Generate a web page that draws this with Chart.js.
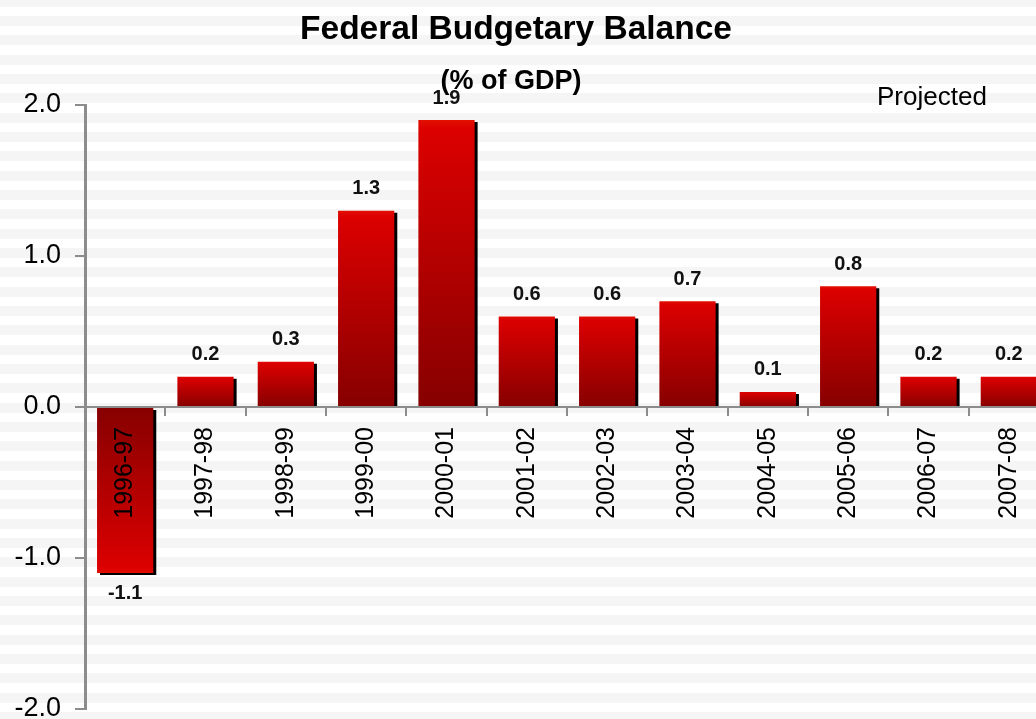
<!DOCTYPE html>
<html>
<head>
<meta charset="utf-8">
<title>Federal Budgetary Balance</title>
<script src="https://cdn.jsdelivr.net/npm/chart.js@4.4.1/dist/chart.umd.min.js"></script>
<style>
  html, body { margin: 0; padding: 0; width: 1036px; height: 719px; overflow: hidden; }
  body {
    background: repeating-linear-gradient(to bottom,
      #f5f5f5 0px, #f5f5f5 6.67px,
      #ffffff 6.67px, #ffffff 16px,
      #f5f5f5 16px, #f5f5f5 19.33px);
  }
  canvas { display: block; }
</style>
</head>
<body>
<canvas id="balance-chart" width="1060" height="719"></canvas>
<script>
// Data
const years = ["1996-97", "1997-98", "1998-99", "1999-00", "2000-01", "2001-02",
               "2002-03", "2003-04", "2004-05", "2005-06", "2006-07", "2007-08"];
const balance = [-1.1, 0.2, 0.3, 1.3, 1.9, 0.6, 0.6, 0.7, 0.1, 0.8, 0.2, 0.2];
const yTicks = [-2, -1, 0, 1, 2];
const titleText = "Federal Budgetary Balance";
const subtitleText = "(% of GDP)";
const noteText = "Projected";

// no narrow face installed, so regular Liberation Sans at a smaller size
const axisFont = "'Liberation Sans', Arial, sans-serif";
const axisGray = "#8c8c8c";

// Bar gradient: dark at the zero line, bright at the tip
function barFill(c) {
  const chart = c.chart;
  if (!chart.chartArea) return "#c00000";
  const y = chart.scales.y;
  const g = chart.ctx.createLinearGradient(0, y.getPixelForValue(0), 0, y.getPixelForValue(c.raw));
  g.addColorStop(0, "#860000");
  g.addColorStop(0.97, "#dc0000");
  g.addColorStop(1, "#e21000");
  return g;
}

// Hard black drop shadow behind the bars
const barShadow = {
  id: "barShadow",
  beforeDatasetsDraw(chart) {
    const ctx = chart.ctx;
    ctx.save();
    ctx.shadowColor = "#000";
    ctx.shadowOffsetX = 3;
    ctx.shadowOffsetY = 2;
    ctx.shadowBlur = 0;
  },
  afterDatasetsDraw(chart) {
    chart.ctx.restore();
  }
};

// Titles, "Projected" note and the value labels
const textLayer = {
  id: "textLayer",
  afterDraw(chart) {
    const ctx = chart.ctx;
    ctx.save();
    ctx.fillStyle = "#000";
    ctx.textAlign = "center";
    ctx.textBaseline = "alphabetic";
    ctx.font = "bold 33.5px 'Liberation Sans'";
    ctx.fillText(titleText, 516, 39);
    ctx.font = "bold 27px 'Liberation Sans'";
    ctx.fillText(subtitleText, 511, 89);

    ctx.textAlign = "left";
    ctx.font = "26px " + axisFont;
    ctx.fillText(noteText, 877, 105);

    ctx.textAlign = "center";
    ctx.textBaseline = "middle";
    ctx.fillStyle = "#111";
    ctx.font = "bold 20px 'Liberation Sans'";
    const meta = chart.getDatasetMeta(0);
    meta.data.forEach((bar, i) => {
      const v = balance[i];
      const ty = v >= 0 ? bar.y - 22 : bar.y + 20;
      ctx.fillText(v.toFixed(1), bar.x, ty);
    });
    ctx.restore();
  }
};

const ctx = document.getElementById("balance-chart").getContext("2d");
const balanceChart = new Chart(ctx, {
  type: "bar",
  data: {
    labels: years,
    datasets: [
      {
        label: "Budgetary balance (% of GDP)",
        data: balance,
        backgroundColor: barFill,
        borderWidth: 0,
        barPercentage: 0.7,
        categoryPercentage: 1.0,
      },
    ],
  },
  options: {
    responsive: false,
    animation: false,
    layout: { padding: { top: 105, right: 11, bottom: 10, left: 0 } },
    plugins: {
      legend: { display: false },
      tooltip: { enabled: false },
      title: { display: false },
    },
    scales: {
      x: {
        type: "category",
        position: { y: 0 },
        offset: true,
        grid: {
          offset: true,
          drawOnChartArea: false,
          drawTicks: true,
          tickLength: 8,
          color: axisGray,
          lineWidth: 2,
        },
        border: { display: true, color: axisGray, width: 2, z: 1 },
        ticks: {
          z: 1,
          autoSkip: false,
          minRotation: 90,
          maxRotation: 90,
          padding: 12,
          color: "#000",
          font: { family: axisFont, size: 25 },
        },
        afterFit(s) {
          s.height = 0;
          s.paddingLeft = 0;
          s.paddingRight = 0;
        },
      },
      y: {
        min: -2,
        max: 2,
        afterBuildTicks(s) {
          s.ticks = yTicks.map((v) => ({ value: v }));
        },
        grid: {
          drawOnChartArea: false,
          drawTicks: true,
          tickLength: 10,
          color: axisGray,
          lineWidth: 2,
        },
        border: { display: true, color: axisGray, width: 3 },
        ticks: {
          padding: 14,
          color: "#000",
          font: { family: axisFont, size: 27 },
          callback: (v) => Number(v).toFixed(1),
        },
        afterFit(s) {
          s.width = 85;
          s.paddingTop = 0;
          s.paddingBottom = 0;
        },
      },
    },
  },
  plugins: [barShadow, textLayer],
});
</script>
</body>
</html>
